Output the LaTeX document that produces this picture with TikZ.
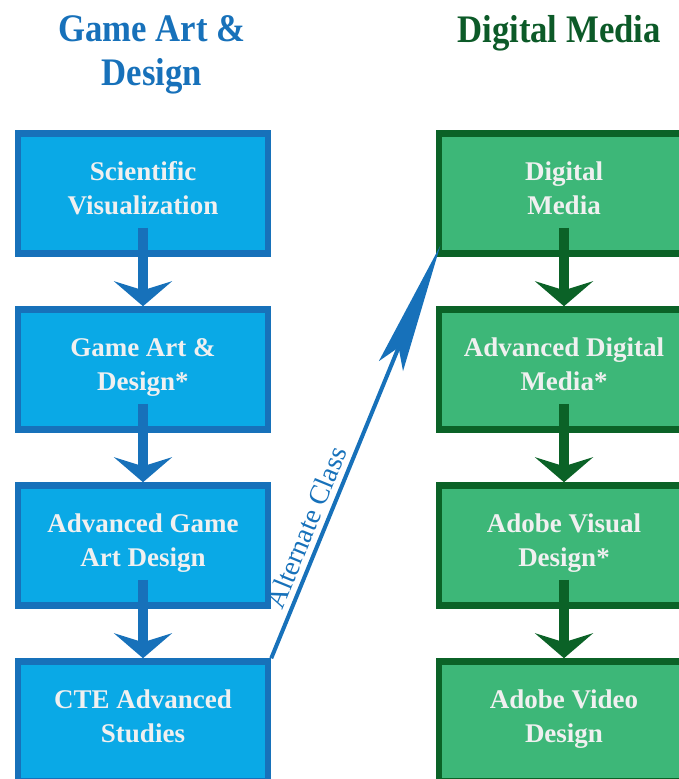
\documentclass[tikz,border=0pt]{standalone}
\usepackage{fontspec}
\setmainfont{Liberation Serif}
\newfontfamily\headfont[FakeStretch=0.89]{Liberation Serif}
\usetikzlibrary{arrows.meta,positioning}
\definecolor{gadline}{HTML}{1771BA}
\definecolor{gadfill}{HTML}{0AA9E6}
\definecolor{dmline}{HTML}{0B6227}
\definecolor{dmfill}{HTML}{3DB778}
\definecolor{dmhead}{HTML}{0C5A28}

\begin{document}
\begin{tikzpicture}[x=1pt,y=1pt,node distance=176pt,on grid,
	box/.style={draw,line width=6.5pt,minimum width=250pt,minimum height=120pt,align=center,
		text=white!94!black,font=\bfseries\fontsize{27pt}{34pt}\selectfont,
		execute at begin node=\strut,execute at end node=\strut},
	gad/.style={box,draw=gadline,fill=gadfill},
	dm/.style={box,draw=dmline,fill=dmfill},
	head/.style={align=center,font=\headfont\bfseries\fontsize{39pt}{44pt}\selectfont},
	down/.style={line width=10pt,-{Stealth[length=25pt,width=58pt,inset=9pt]}}]
			\useasboundingbox (-143,193.5) rectangle (536,-585.5);
			\clip (-143,193.5) rectangle (536,-585.5);
			% left column
			\node[gad] (g_0) {Scientific\\Visualization};
			\node[gad] (g_1) [below=of g_0] {Game Art \&\\Design*};
			\node[gad] (g_2) [below=of g_1] {Advanced Game\\Art Design};
			\node[gad] (g_3) [below=of g_2] {CTE Advanced\\Studies};
			% right column
			\node[dm] (m_0) [right=421pt of g_0] {Digital\\Media};
			\node[dm] (m_1) [below=of m_0] {Advanced Digital\\Media*};
			\node[dm] (m_2) [below=of m_1] {Adobe Visual\\Design*};
			\node[dm] (m_3) [below=of m_2] {Adobe Video\\Design};
			% titles
			\node[head,text=gadline] (h_g) [above=139pt of g_0,xshift=9pt] {Game Art \&\\Design};
			\node[head,text=dmhead] (h_m) [above=160pt of m_0,xshift=-5pt] {Digital Media};
			\path[down,color=gadline]
			([yshift=29pt]g_0.south) edge (g_1.north)
			([yshift=29pt]g_1.south) edge (g_2.north)
			([yshift=29pt]g_2.south) edge (g_3.north);
			\path[down,color=dmline]
			([yshift=29pt]m_0.south) edge (m_1.north)
			([yshift=29pt]m_1.south) edge (m_2.north)
			([yshift=29pt]m_2.south) edge (m_3.north);
			\draw[gadline,line width=4pt,shorten >=-12pt,-{Stealth[length=130pt,width=26pt,inset=20pt]}]
			(g_3.north east) -- node[pos=0.31,sloped,above=2pt,text=gadline,
				font=\fontsize{28pt}{30pt}\selectfont] {Alternate Class} (m_0.south west);
		\end{tikzpicture}
\end{document}
